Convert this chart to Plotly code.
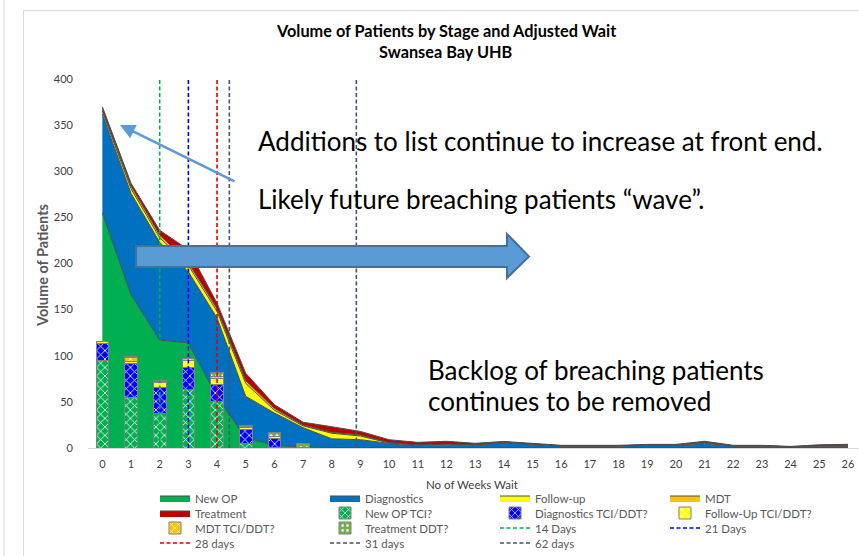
import plotly.graph_objects as go

# ---------------- data ----------------
weeks = list(range(27))
week_labels = [str(w) for w in weeks]

new_op = [255, 166, 117, 114, 55, 11, 3, 1, 0.5, 0.5, 0.5, 0.5, 0.5, 0.5, 0.5, 0.5, 0.5, 0.5, 0.5, 0.5, 0.5, 0.5, 0.5, 0.5, 0.5, 0.5, 0.5]
diagnostics = [107, 110, 106, 77, 86, 45, 35, 21, 9.5, 8.5, 4.5, 2.5, 2.5, 2.5, 5.5, 3.5, 1.5, 1.5, 1.5, 2.5, 2.5, 4.5, 1.5, 1.5, 0.5, 1.5, 1.5]
follow_up = [3, 5, 5, 7, 7, 14, 3, 2, 6, 4, 0.5, 0.3, 1, 0.3, 0.3, 0.3, 0.2, 0.2, 0.2, 0.2, 0.2, 1, 0.2, 0.2, 0.2, 0.2, 0.2]
mdt = [2, 3, 3, 3, 3, 3, 2, 1, 1, 1, 0.5, 0.3, 0.3, 0.3, 0.3, 0.3, 0.2, 0.2, 0.2, 0.2, 0.2, 0.3, 0.2, 0.2, 0.2, 0.3, 0.3]
treatment = [3, 3, 5, 14, 6, 8, 4, 3, 6, 4, 3, 2.5, 3, 1.5, 0.5, 0.5, 0.5, 0.5, 0.5, 0.5, 0.5, 1, 0.5, 0.5, 0.3, 1, 1.5]

bar_weeks = [0, 1, 2, 3, 4, 5, 6, 7]
new_op_tci = [95, 55, 37, 63.5, 50, 5, 1, 1]
diag_tci = [18.5, 37, 29, 24, 19, 15, 9.5, 0]
fu_tci = [1.5, 2, 5, 7, 6.5, 2, 1.5, 0]
mdt_tci = [0.5, 4.5, 1, 2.5, 2.5, 1.5, 0.5, 0]
treat_ddt = [0, 0.5, 1.5, 0.5, 4, 0.5, 4, 4]

threshold_names = ["14 Days", "21 Days", "28 days", "31 days", "62 days"]
threshold_days = [14, 21, 28, 31, 62]
threshold_colors = ["#00B050", "#0000FF", "#E00000", "#44546A", "#44546A"]

FONT = "Lato, 'Open Sans', sans-serif"
GREY = "#595959"

# plot-area pixel geometry
W, H = 859, 556
L, R, T, B = 88, 859, 79, 448
def px(x):
    return (x - L) / (R - L)
def py(y):
    return (B - y) / (B - T)

fig = go.Figure()

rows = [["New OP", "Diagnostics", "Follow-up", "MDT"],
        ["Treatment", "New OP TCI?", "Diagnostics TCI/DDT?", "Follow-Up TCI/DDT?"],
        ["MDT TCI/DDT?", "Treatment DDT?", "14 Days", "21 Days"],
        ["28 days", "31 days", "62 days"]]
legend_of = {}
for i, row in enumerate(rows):
    for n in row:
        legend_of[n] = "legend" if i == 0 else f"legend{i+1}"

# ---------------- stacked areas ----------------
areas = [("New OP", new_op, "#00B050"), ("Diagnostics", diagnostics, "#0070C0"),
         ("Follow-up", follow_up, "#FFFF00"), ("MDT", mdt, "#FFC000"),
         ("Treatment", treatment, "#C00000")]
for name, vals, col in areas:
    fig.add_trace(go.Scatter(x=weeks, y=vals, name=name, mode="lines",
                             stackgroup="one", fillcolor=col,
                             line=dict(color="#4d4d4d", width=1),
                             legend=legend_of[name], hoverinfo="skip"))

# ---------------- patterned bars (overlay axis so they sit above areas) ----------------
bars = [("New OP TCI?", new_op_tci, "#00B050", "x"),
        ("Diagnostics TCI/DDT?", diag_tci, "#0000FF", "x"),
        ("Follow-Up TCI/DDT?", fu_tci, "#FFFF00", "x"),
        ("MDT TCI/DDT?", mdt_tci, "#FFC000", "x"),
        ("Treatment DDT?", treat_ddt, "#70AD47", ".")]
for name, vals, col, shp in bars:
    fig.add_trace(go.Bar(x=bar_weeks, y=vals, name=name, width=0.44,
                         xaxis="x2", yaxis="y2",
                         marker=dict(color=col, line=dict(color="#808080", width=1),
                                     pattern=dict(shape=shp, fgcolor="white", bgcolor=col,
                                                  size=6, solidity=0.25, fillmode="replace")),
                         legend=legend_of[name], hoverinfo="skip"))

# ---------------- threshold dashed lines ----------------
for name, d, col in zip(threshold_names, threshold_days, threshold_colors):
    fig.add_trace(go.Scatter(x=[d / 7, d / 7], y=[0, 400], name=name, mode="lines",
                             xaxis="x2", yaxis="y2",
                             line=dict(color=col, width=1.6, dash="4px,2.5px"),
                             legend=legend_of[name], hoverinfo="skip"))

xrange = [-0.5, (R - 102) / 28.69]
fig.update_layout(
    width=W, height=H,
    margin=dict(l=L, r=W - R, t=T, b=H - B),
    paper_bgcolor="white", plot_bgcolor="white",
    font=dict(family=FONT, color=GREY, size=11),
    barmode="stack", showlegend=True,
    xaxis=dict(range=xrange, tickmode="array", tickvals=weeks, ticktext=week_labels,
               showgrid=False, zeroline=False, showline=True, linecolor="#D9D9D9",
               linewidth=1, ticks="", ticklabelstandoff=6,
               tickfont=dict(size=11, color="#404040")),
    yaxis=dict(range=[0, 400], tickvals=list(range(0, 401, 50)), showgrid=False,
               zeroline=False, showline=False, ticks="", ticklabelstandoff=14,
               tickfont=dict(size=11, color="#404040")),
    xaxis2=dict(range=xrange, overlaying="x", visible=False),
    yaxis2=dict(range=[0, 400], overlaying="y", visible=False),
)

row_y = [498, 513, 528, 543]
for i in range(4):
    key = "legend" if i == 0 else f"legend{i+1}"
    fig.update_layout({key: dict(orientation="h", xref="container", yref="container",
                                 x=155 / W, y=1 - row_y[i] / H, xanchor="left", yanchor="middle",
                                 entrywidth=125, entrywidthmode="pixels",
                                 bgcolor="rgba(0,0,0,0)", borderwidth=0,
                                 traceorder="normal", itemwidth=30,
                                 font=dict(size=11.5, color=GREY, family=FONT))})

ann = []
# titles
ann.append(dict(text="<b>Volume of Patients by Stage and Adjusted Wait</b>", x=px(446), y=py(31),
                xref="paper", yref="paper", showarrow=False, xanchor="center", yanchor="middle",
                font=dict(size=16.3, color="#000000")))
ann.append(dict(text="<b>Swansea Bay UHB</b>", x=px(446), y=py(52),
                xref="paper", yref="paper", showarrow=False, xanchor="center", yanchor="middle",
                font=dict(size=16.3, color="#000000")))
ann.append(dict(text="<b>Volume of Patients</b>", x=px(42), y=py(266), textangle=-90,
                xref="paper", yref="paper", showarrow=False, xanchor="center", yanchor="middle",
                font=dict(size=14.5, color=GREY)))
ann.append(dict(text="No of Weeks Wait", x=px(472), y=py(484),
                xref="paper", yref="paper", showarrow=False, xanchor="center", yanchor="middle",
                font=dict(size=11.5, color="#404040")))
# commentary
for txt, x0, y0 in [("Additions to list continue to increase at front end.", 256, 141),
                    ("Likely future breaching patients \u201cwave\u201d.", 256, 199),
                    ("Backlog of breaching patients", 426, 370),
                    ("continues to be removed", 426, 401)]:
    ann.append(dict(text=txt, x=px(x0), y=py(y0), xref="paper", yref="paper",
                    showarrow=False, xanchor="left", yanchor="middle",
                    font=dict(size=26, color="#000000")))
# thin arrow
ann.append(dict(text="", x=px(120), y=py(125), xref="paper", yref="paper",
                ax=236 - 120, ay=182 - 125, axref="pixel", ayref="pixel",
                showarrow=True, arrowhead=2, arrowsize=1.2, arrowwidth=2.5,
                arrowcolor="#5B9BD5"))
fig.update_layout(annotations=ann)

# block arrow + frame
bx0, bx1, btop, bbot = 136, 507, 246, 267
hx, tipx, htop, hbot, tipy = 507, 529, 234, 278, 256.5
path = (f"M {px(bx0)},{py(btop)} L {px(hx)},{py(btop)} L {px(hx)},{py(htop)} "
        f"L {px(tipx)},{py(tipy)} L {px(hx)},{py(hbot)} L {px(hx)},{py(bbot)} "
        f"L {px(bx0)},{py(bbot)} Z")
fig.add_shape(type="path", path=path, xref="paper", yref="paper",
              fillcolor="#5B9BD5", line=dict(color="#41719C", width=2), layer="above")
fig.add_shape(type="line", x0=px(4), x1=px(4), y0=py(0), y1=py(556), xref="paper", yref="paper",
              line=dict(color="#D9D9D9", width=1))
fig.add_shape(type="rect", x0=px(23.5), x1=px(880), y0=py(10.5), y1=py(580), xref="paper", yref="paper",
              line=dict(color="#D9D9D9", width=1), fillcolor="rgba(0,0,0,0)")

fig.write_html("out.html", config={"displayModeBar": False},
               post_script="document.body.style.margin='0px';")
